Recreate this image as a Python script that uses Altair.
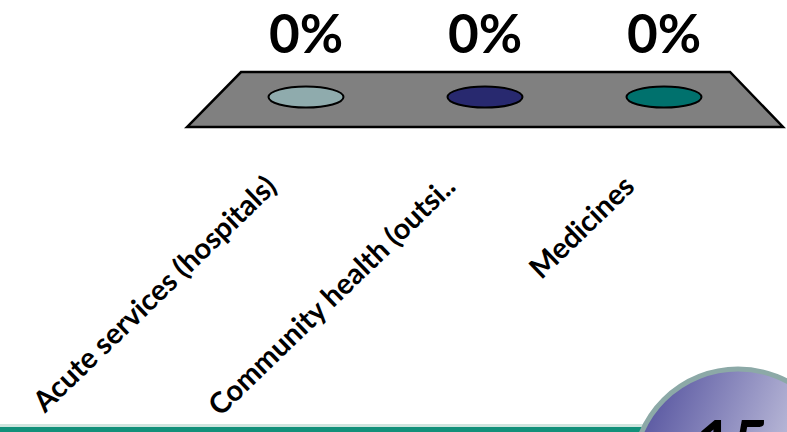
import altair as alt
import pandas as pd

# ---- data ----
categories = ["Acute services (hospitals)", "Community health (outsi..", "Medicines"]
values = [0.0, 0.0, 0.0]
bar_colors = ["#8FABAD", "#28296F", "#00716D"]

# 3-D floor outline in category units (x) and depth units (y)
floor_x = [-0.665, -0.363, 2.369, 2.665]
floor_depth = [0.0, 1.0, 1.0, 0.0]

W, H = 787, 432
X_DOMAIN = [-1.7095, 2.6872]
Y_DOMAIN = [-5.545, 2.309]
BAR_BASE = 0.545          # depth where the bar bases sit on the floor
LABEL_GAP = 0.8           # gap between bar top and value label
CAT_LABEL_X = -0.19
CAT_LABEL_Y = -1.0

ELLIPSE = ("M-1,0 C-1,-0.1546 -0.5523,-0.28 0,-0.28 C0.5523,-0.28 1,-0.1546 1,0 "
           "C1,0.1546 0.5523,0.28 0,0.28 C-0.5523,0.28 -1,0.1546 -1,0 Z")

bars = pd.DataFrame({
    "idx": list(range(len(categories))),
    "category": categories,
    "value": values,
    "color": bar_colors,
})
floor = pd.DataFrame({"x": floor_x, "d": floor_depth, "d0": [0.0] * len(floor_x)})
one = pd.DataFrame({"k": [0]})

xs = alt.Scale(domain=X_DOMAIN, nice=False, zero=False)
ys = alt.Scale(domain=Y_DOMAIN, nice=False, zero=False)

FONT = "Lato"

# ---- slide decoration ----
band_light = alt.Chart(one).mark_rect(fill="#CFE5DE").encode(
    x=alt.value(0), x2=alt.value(W), y=alt.value(424), y2=alt.value(427))
band = alt.Chart(one).mark_rect(fill="#12907A").encode(
    x=alt.value(0), x2=alt.value(W), y=alt.value(427), y2=alt.value(H))

grad = alt.Gradient(
    gradient="linear",
    stops=[alt.GradientStop(color="#504E9C", offset=0),
           alt.GradientStop(color="#9A99C6", offset=0.5),
           alt.GradientStop(color="#E4E4EE", offset=1)],
    x1=0, y1=0.15, x2=1, y2=0.55,
)
badge = alt.Chart(one).mark_point(
    shape="circle", size=44100, filled=True, fill=grad, fillOpacity=1,
    stroke="#8CA9A7", strokeWidth=5, opacity=1,
).encode(x=alt.value(738), y=alt.value(474))
badge_txt = alt.Chart(one).mark_text(
    text="15", font=FONT, fontWeight="bold", fontSize=62, color="black",
    align="center", baseline="alphabetic",
).encode(x=alt.value(733), y=alt.value(464))

# ---- chart ----
floor_layer = alt.Chart(floor).mark_area(
    fill="#808080", stroke="black", strokeWidth=2.5, strokeJoin="miter",
    fillOpacity=1, orient="vertical",
).encode(
    x=alt.X("x:Q", scale=xs, axis=None),
    y=alt.Y("d:Q", scale=ys, axis=None, stack=None),
    y2="d0:Q",
)

base = alt.Chart(bars).transform_calculate(
    top=f"{BAR_BASE} + datum.value * 5",
    lab=f"{BAR_BASE} + datum.value * 5 + {LABEL_GAP}",
    lx=f"datum.idx + {CAT_LABEL_X}",
    cy=f"{CAT_LABEL_Y}",
)

tops = base.mark_point(
    shape=ELLIPSE, size=5625, filled=True, stroke="black", strokeWidth=2,
    opacity=1, fillOpacity=1,
).encode(
    x=alt.X("idx:Q", scale=xs, axis=None),
    y=alt.Y("top:Q", scale=ys, axis=None),
    fill=alt.Fill("color:N", scale=None, legend=None),
)

pct = base.mark_text(
    font=FONT, fontWeight="bold", fontSize=53, color="black",
    align="center", baseline="alphabetic",
).encode(
    x=alt.X("idx:Q", scale=xs, axis=None),
    y=alt.Y("lab:Q", scale=ys, axis=None),
    text=alt.Text("value:Q", format=".0%"),
)

cat = base.mark_text(
    font=FONT, fontWeight="bold", fontSize=29, color="black",
    align="right", baseline="middle", angle=316,
).encode(
    x=alt.X("lx:Q", scale=xs, axis=None),
    y=alt.Y("cy:Q", scale=ys, axis=None),
    text="category:N",
)

chart = alt.layer(
    band_light, band, badge, badge_txt, floor_layer, tops, pct, cat
).properties(
    width=W, height=H, padding=0, autosize=alt.AutoSizeParams(type="none"),
    background="white",
).configure_view(stroke=None)

chart.save("out.html", embed_options={"renderer": "svg", "actions": False})
